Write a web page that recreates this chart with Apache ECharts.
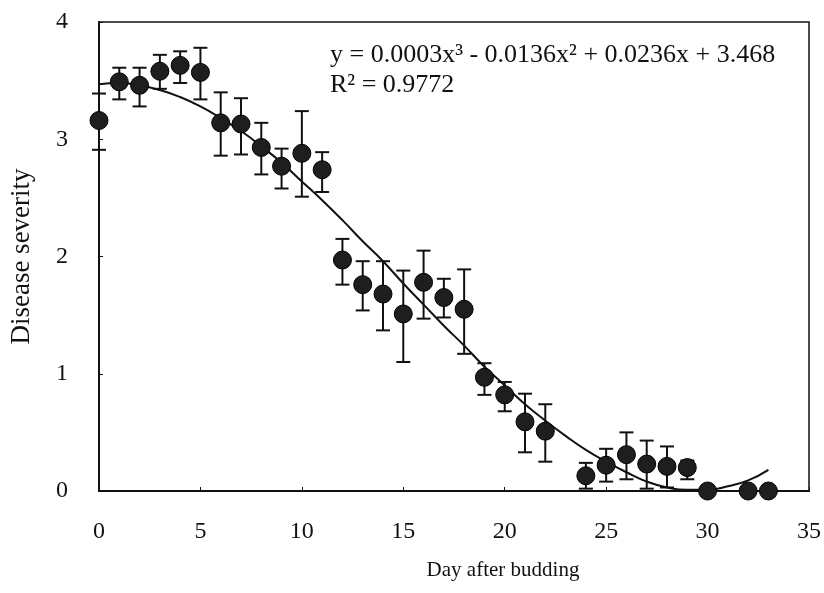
<!DOCTYPE html>
<html>
<head>
<meta charset="utf-8">
<script src="https://cdn.jsdelivr.net/npm/echarts@6/dist/echarts.min.js"></script>
<style>
  html, body { margin: 0; padding: 0; background: #fff; }
  #chart { width: 824px; height: 593px; }
</style>
</head>
<body>
<div id="chart"></div>
<script>
// days after budding, mean severity and error bar ends
var days = [0, 1, 2, 3, 4, 5, 6, 7, 8, 9, 10, 11, 12, 13, 14, 15, 16, 17, 18, 19, 20, 21, 22, 24, 25, 26, 27, 28, 29, 30, 32, 33];
var severity = [3.16, 3.49, 3.46, 3.58, 3.63, 3.57, 3.14, 3.13, 2.93, 2.77, 2.88, 2.74, 1.97, 1.76, 1.68, 1.51, 1.78, 1.65, 1.55, 0.97, 0.82, 0.59, 0.51, 0.13, 0.22, 0.31, 0.23, 0.21, 0.20, 0, 0, 0];
var upper = [3.39, 3.61, 3.61, 3.72, 3.75, 3.78, 3.40, 3.35, 3.14, 2.92, 3.24, 2.89, 2.15, 1.96, 1.96, 1.88, 2.05, 1.81, 1.89, 1.09, 0.93, 0.83, 0.74, 0.24, 0.36, 0.50, 0.43, 0.38, 0.26, 0, 0, 0];
var lower = [2.91, 3.34, 3.28, 3.43, 3.48, 3.34, 2.86, 2.87, 2.70, 2.58, 2.51, 2.55, 1.76, 1.54, 1.37, 1.10, 1.47, 1.48, 1.17, 0.82, 0.68, 0.33, 0.25, 0.02, 0.08, 0.10, 0.02, 0.03, 0.10, 0, 0, 0];

// cubic trend line as drawn in the figure
var fitDays = [0, 1, 2, 3, 4, 5, 6, 7, 8, 9, 10, 11, 12, 13, 14, 15, 16, 17, 18, 19, 20, 21, 22, 23, 24, 25, 26, 27, 28, 29, 30, 31, 32, 33];
var fitValues = [3.47, 3.48, 3.46, 3.42, 3.36, 3.28, 3.18, 3.07, 2.94, 2.80, 2.64, 2.48, 2.31, 2.13, 1.96, 1.77, 1.59, 1.41, 1.24, 1.06, 0.90, 0.74, 0.60, 0.47, 0.35, 0.25, 0.16, 0.08, 0.03, 0.01, 0.01, 0.04, 0.09, 0.18];

var xTicks = [0, 5, 10, 15, 20, 25, 30, 35];
var yTicks = [0, 1, 2, 3, 4];

var equation = 'y = 0.0003x³ - 0.0136x² + 0.0236x + 3.468';
var rSquared = 'R² = 0.9772';

var font = 'Liberation Serif';
var ink = '#111';

var pts = [], bars = [], fit = [];
for (var i = 0; i < days.length; i++) {
    pts.push([days[i], severity[i]]);
    if (upper[i] > lower[i]) bars.push([days[i], lower[i], upper[i]]);
}
for (var j = 0; j < fitDays.length; j++) fit.push([fitDays[j], fitValues[j]]);

var chart = echarts.init(document.getElementById('chart'));

var option = {
    backgroundColor: '#fff',
    animation: false,
    grid: {
        left: 97, right: 15, top: 22, bottom: 102,
        show: true,
        borderColor: ink,
        borderWidth: 1.5,
        backgroundColor: 'transparent'
    },
    xAxis: {
        type: 'value',
        min: 0, max: 35, interval: 5,
        axisLine: { lineStyle: { color: ink, width: 2 } },
        axisTick: { inside: true, length: 4, lineStyle: { color: ink, width: 1 } },
        axisLabel: {
            margin: 29, color: ink, fontFamily: font, fontSize: 24,
            formatter: function (v) { return xTicks.indexOf(v) > -1 ? String(v) : ''; }
        },
        splitLine: { show: false }
    },
    yAxis: {
        type: 'value',
        min: 0, max: 4, interval: 1,
        name: 'Disease severity',
        nameLocation: 'middle',
        nameGap: 64,
        nameTextStyle: { color: ink, fontFamily: font, fontSize: 27 },
        axisLine: { lineStyle: { color: ink, width: 2 } },
        axisTick: { inside: true, length: 4, lineStyle: { color: ink, width: 1 } },
        axisLabel: {
            margin: 31, color: ink, fontFamily: font, fontSize: 24,
            formatter: function (v) { return yTicks.indexOf(v) > -1 ? String(v) : ''; }
        },
        splitLine: { show: false }
    },
    graphic: [
        {
            type: 'text', x: 503, y: 570,
            style: { text: 'Day after budding', font: '21px "' + font + '"', fill: ink, textAlign: 'center', textVerticalAlign: 'middle' }
        },
        {
            type: 'text', x: 330, y: 55,
            style: { text: equation, font: '26px "' + font + '"', fill: ink, textAlign: 'left', textVerticalAlign: 'middle' }
        },
        {
            type: 'text', x: 330, y: 85,
            style: { text: rSquared, font: '26px "' + font + '"', fill: ink, textAlign: 'left', textVerticalAlign: 'middle' }
        }
    ],
    series: [
        {
            type: 'line',
            data: fit,
            smooth: true,
            showSymbol: false,
            clip: false,
            lineStyle: { color: ink, width: 2 },
            z: 2
        },
        {
            type: 'custom',
            data: bars,
            clip: false,
            encode: { x: 0, y: [1, 2] },
            renderItem: function (params, api) {
                var x = api.value(0);
                var lo = api.coord([x, api.value(1)]);
                var hi = api.coord([x, api.value(2)]);
                var hw = 7;
                var st = { stroke: ink, lineWidth: 2 };
                return {
                    type: 'group',
                    children: [
                        { type: 'line', shape: { x1: lo[0], y1: lo[1], x2: hi[0], y2: hi[1] }, style: st },
                        { type: 'line', shape: { x1: hi[0] - hw, y1: hi[1], x2: hi[0] + hw, y2: hi[1] }, style: st },
                        { type: 'line', shape: { x1: lo[0] - hw, y1: lo[1], x2: lo[0] + hw, y2: lo[1] }, style: st }
                    ]
                };
            },
            z: 3
        },
        {
            type: 'scatter',
            data: pts,
            symbol: 'circle',
            symbolSize: 18,
            clip: false,
            itemStyle: { color: '#1e1e1e', borderColor: '#000', borderWidth: 1, opacity: 1 },
            z: 4
        }
    ]
};

chart.setOption(option);
</script>
</body>
</html>
